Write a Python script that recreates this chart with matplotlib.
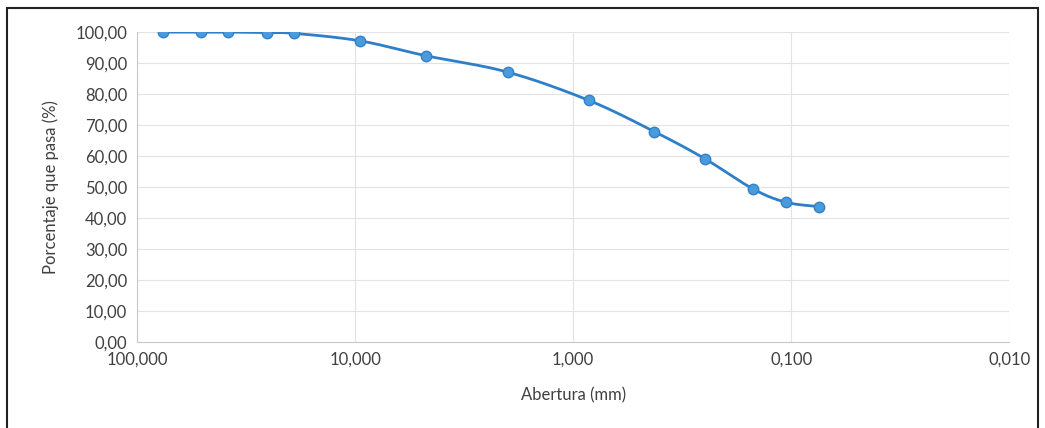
import matplotlib
matplotlib.use("Agg")
from matplotlib import pyplot as plt
from matplotlib.ticker import FuncFormatter
from matplotlib.patches import Rectangle
import numpy as np

plt.rcParams['font.family'] = ['Lato', 'DejaVu Sans']

# sieve openings (mm) and percent passing
abertura = [76.2, 50.8, 38.1, 25.4, 19.05, 9.525, 4.75, 2.0, 0.85, 0.425, 0.25, 0.15, 0.106, 0.075]
pasa = [100.0, 100.0, 100.0, 99.8, 99.6, 97.2, 92.4, 87.1, 78.0, 67.9, 59.2, 49.4, 45.1, 43.7]
x_ticks = [100, 10, 1, 0.1, 0.01]
y_ticks = [0, 10, 20, 30, 40, 50, 60, 70, 80, 90, 100]


def smooth(xs, ys, n=30):
    # catmull-rom through the points in log-x space (like excel smoothed line)
    lx = np.log10(xs)
    y = np.asarray(ys, dtype=float)
    P = np.column_stack([lx, y / 45.0])
    P = np.vstack([P[0], P, P[-1]])
    out = []
    for i in range(1, len(P) - 2):
        p0, p1, p2, p3 = P[i - 1], P[i], P[i + 1], P[i + 2]
        t = np.linspace(0, 1, n)[:, None]
        c = 0.5 * ((2 * p1) + (-p0 + p2) * t + (2 * p0 - 5 * p1 + 4 * p2 - p3) * t**2
                   + (-p0 + 3 * p1 - 3 * p2 + p3) * t**3)
        out.append(c)
    c = np.vstack(out)
    return 10 ** c[:, 0], c[:, 1] * 45.0


fig = plt.figure(figsize=(10.45, 4.28), dpi=100)
ax = fig.add_axes([0.131, 0.201, 0.835, 0.724])

sx, sy = smooth(abertura, pasa)
ax.plot(sx, sy, color="#2F7FC8", linewidth=2, zorder=3)
ax.plot(abertura, pasa, linestyle="none", marker="o", markersize=7.5,
        markerfacecolor="#4A9BDE", markeredgecolor="#3580C6", markeredgewidth=1, zorder=4)

ax.set_xscale("log")
ax.set_xlim(100, 0.01)
ax.set_ylim(0, 100)
ax.set_xticks(x_ticks)
ax.set_yticks(y_ticks)
ax.minorticks_off()
ax.xaxis.set_major_formatter(FuncFormatter(lambda v, p: f"{v:.3f}".replace(".", ",")))
ax.yaxis.set_major_formatter(FuncFormatter(lambda v, p: f"{v:.2f}".replace(".", ",")))
ax.tick_params(length=0, labelsize=12, colors="#404040", pad=7)

ax.grid(True, color="#E3E3E3", linewidth=0.8)
for s in ["top", "right"]:
    ax.spines[s].set_visible(False)
ax.spines["left"].set_color("#C8C8C8")
ax.spines["bottom"].set_color("#C8C8C8")

ax.set_xlabel("Abertura (mm)", fontsize=12, color="#404040", labelpad=14)
ax.set_ylabel("Porcentaje que pasa (%)", fontsize=12, color="#404040", labelpad=12)

fig.patches.append(Rectangle((0.007, -0.01), 0.986, 0.992, transform=fig.transFigure,
                             fill=False, edgecolor="#222222", linewidth=1.5))

fig.savefig("out.png", dpi=100)
